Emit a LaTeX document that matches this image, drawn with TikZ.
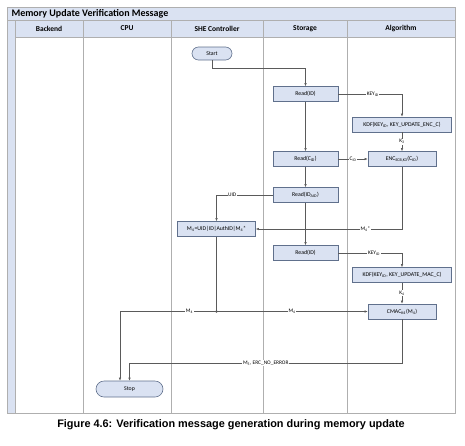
\documentclass[tikz,border=0pt]{standalone}
\usepackage{fontspec}
\setmainfont{Carlito}
\newfontfamily\capfont{Liberation Sans}
\usetikzlibrary{arrows.meta, positioning}
\definecolor{LaneFill}{RGB}{218,226,242}
\definecolor{BoxDraw}{RGB}{96,112,140}
\definecolor{LaneLine}{RGB}{175,175,175}
\definecolor{FlowLine}{RGB}{90,90,90}
\tikzset{
  >={Latex[length=3,width=2.4]},
  % Blocchi del flusso
  proc/.style={draw=BoxDraw,fill=LaneFill,line width=0.6,minimum height=15,inner sep=1,
    font=\fontsize{5.8}{6.5}\selectfont},
  term/.style={proc,rounded corners=6.5,minimum height=13},
  % Connessioni
  flow/.style={->,draw=FlowLine,line width=0.5},
  lbl/.style={fill=white,inner sep=0.6,font=\fontsize{5.4}{6}\selectfont},
  % Corsie
  lane/.style={draw=LaneLine,line width=0.6},
  head/.style={font=\bfseries\fontsize{7.5}{8}\selectfont}
}

\begin{document}
\begin{tikzpicture}[x=1pt,y=-1pt]
    \useasboundingbox (0,0) rectangle (465,445);
    % corsie
    \fill[LaneFill] (7,7) rectangle (455,37);
    \fill[LaneFill] (7,20) rectangle (15,413);
    \foreach \x in {15,83,171,263,347}
      \draw[lane] (\x,20) -- (\x,413);
    \draw[lane] (7,20) -- (455,20);
    \draw[lane] (15,37) -- (455,37);
    \draw[lane] (7,7) rectangle (455,413);
    \node[anchor=west,font=\bfseries\fontsize{10}{11}\selectfont] (title) at (8,13.5)
      {Memory Update Verification Message};
    \foreach \cx/\name [count=\i] in {49/Backend,127/CPU,217/SHE Controller,305/Storage,401/Algorithm}
      \node[head] (head\i) at (\cx,28.5) {\name};
    % blocchi
    \node[term,minimum width=40] (start) at (212,53.5) {Start};
    \node[proc,minimum width=65] (rid1) at (305.5,94) {Read(ID)};
    \node[proc,minimum width=99] (kdfenc) at (402,124.5) {KDF(KEY\textsubscript{ID}, KEY\_UPDATE\_ENC\_C)};
    \node[proc,minimum width=65] (rcid) at (305.5,159) {Read(C\textsubscript{ID})};
    \node[proc,minimum width=68] (enc) at (402,159) {ENC\textsubscript{ECB,K3}(C\textsubscript{ID})};
    \node[proc,minimum width=65] (raid) at (305.5,195) {Read(ID\textsubscript{AID})};
    \node[proc,minimum width=78] (mfour) at (216.5,229) {M\textsubscript{4}=UID|ID|AuthID|M\textsubscript{4}*};
    \node[proc,minimum width=65] (rid2) at (305.5,253) {Read(ID)};
    \node[proc,minimum width=99] (kdfmac) at (402,275) {KDF(KEY\textsubscript{ID}, KEY\_UPDATE\_MAC\_C)};
    \node[proc,minimum width=68] (cmac) at (402,311.5) {CMAC\textsubscript{K4}(M\textsubscript{4})};
    \node[term,minimum width=67,minimum height=16,rounded corners=8] (stop) at (129.5,389) {Stop};
    \coordinate (split) at (mfour.south |- cmac.west);
    % connessioni
    \draw[flow] (start.south) -- ++(0,8) -| (rid1.north);
    \draw[flow] (rid1.east) -| node[lbl,pos=0.27]{KEY\textsubscript{ID}} (kdfenc.north);
    \draw[flow] (kdfenc.south) -- node[lbl]{K\textsubscript{3}} (enc.north);
    \draw[flow] (rid1.south) -- (rcid.north);
    \draw[flow] (rcid.east) -- node[lbl]{C\textsubscript{ID}} (enc.west);
    \draw[flow] (rcid.south) -- (raid.north);
    \draw[flow] (raid.west) -| node[lbl,pos=0.36]{UID} (mfour.north);
    \draw[flow] (raid.south) -- (rid2.north);
    \draw[flow] (enc.south) |- node[lbl,pos=0.625]{M\textsubscript{4}*} (mfour.east);
    \draw[flow] (rid2.east) -| node[lbl,pos=0.28]{KEY\textsubscript{ID}} (kdfmac.north);
    \draw[flow] (kdfmac.south) -- node[lbl]{K\textsubscript{4}} (cmac.north);
    \draw[flow,-] (mfour.south) -- (split);
    \fill[FlowLine] (split) circle (1.3);
    \draw[flow] (split) -- node[lbl]{M\textsubscript{4}} (cmac.west);
    \draw[flow] (split) -| node[lbl,pos=0.14]{M\textsubscript{4}} ([xshift=-9.5]stop.north);
    \draw[flow] (cmac.south) -- ++(0,43.5) -| node[lbl,pos=0.25]{M\textsubscript{5}, ERC\_NO\_ERROR} (stop.north);
    % didascalia
    \node[font=\capfont\bfseries\fontsize{10.9}{12}\selectfont] (caption) at (231,425)
      {Figure 4.6: Verification message generation during memory update};
\end{tikzpicture}
\end{document}
